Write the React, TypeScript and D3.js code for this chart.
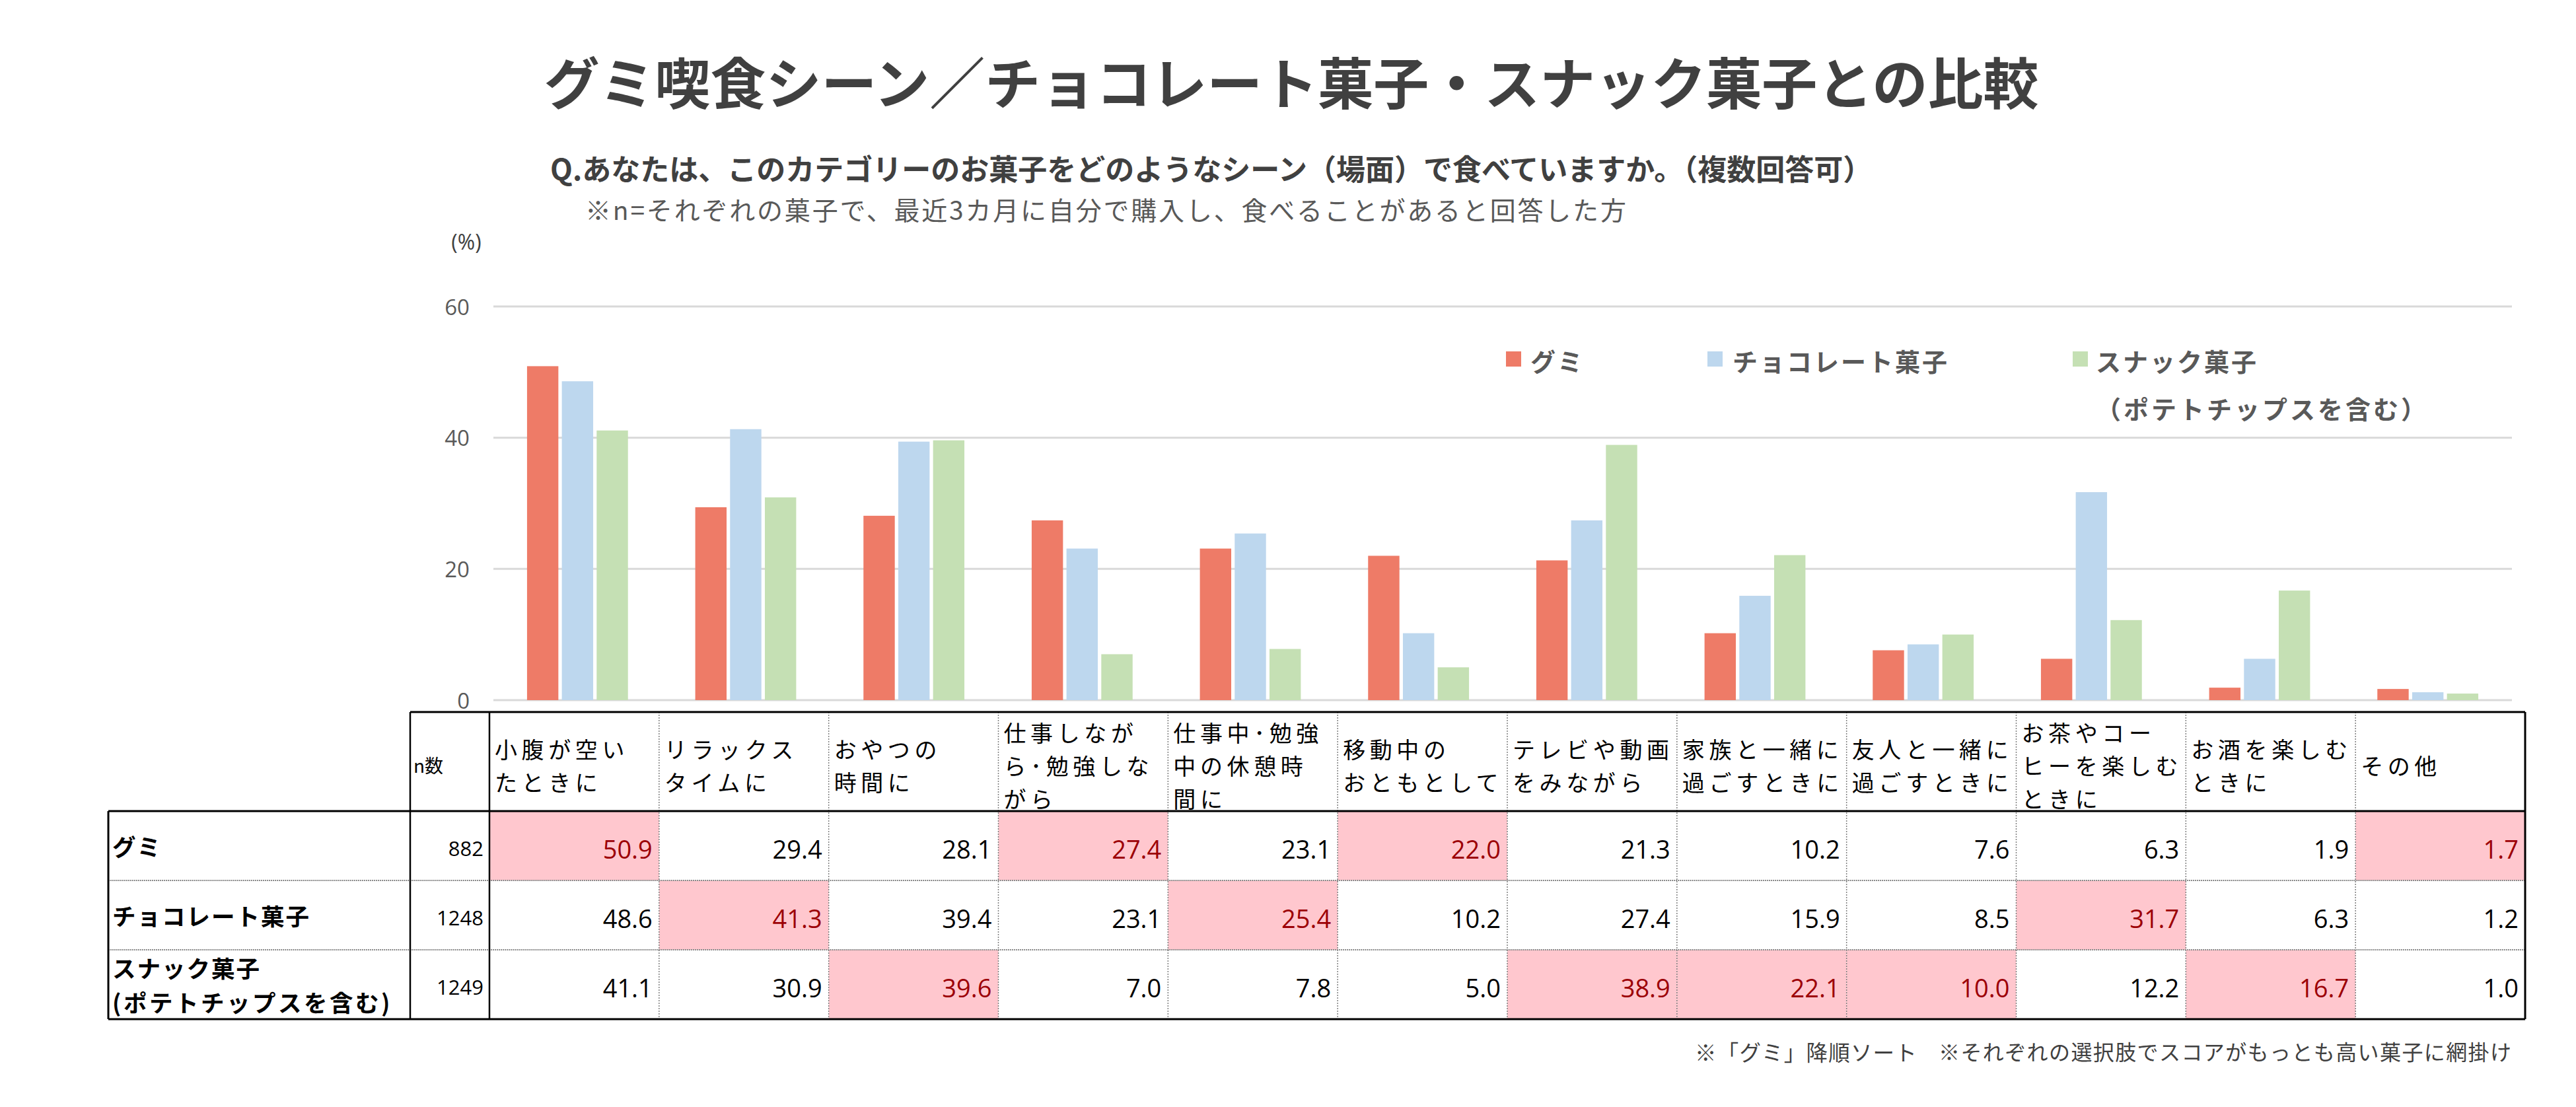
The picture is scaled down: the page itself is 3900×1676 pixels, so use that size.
import React from 'react';
import * as d3 from 'd3';

const categories: string[][] = [
  ['小腹が空い', 'たときに'],
  ['リラックス', 'タイムに'],
  ['おやつの', '時間に'],
  ['仕事しなが', 'ら･勉強しな', 'がら'],
  ['仕事中･勉強', '中の休憩時', '間に'],
  ['移動中の', 'おともとして'],
  ['テレビや動画', 'をみながら'],
  ['家族と一緒に', '過ごすときに'],
  ['友人と一緒に', '過ごすときに'],
  ['お茶やコー', 'ヒーを楽しむ', 'ときに'],
  ['お酒を楽しむ', 'ときに'],
  ['その他'],
];
const seriesNames = ['グミ', 'チョコレート菓子', 'スナック菓子'];
const rowLabels: string[][] = [['グミ'], ['チョコレート菓子'], ['スナック菓子', '(ポテトチップスを含む)']];
const gummy = [50.9, 29.4, 28.1, 27.4, 23.1, 22.0, 21.3, 10.2, 7.6, 6.3, 1.9, 1.7];
const choco = [48.6, 41.3, 39.4, 23.1, 25.4, 10.2, 27.4, 15.9, 8.5, 31.7, 6.3, 1.2];
const snack = [41.1, 30.9, 39.6, 7.0, 7.8, 5.0, 38.9, 22.1, 10.0, 12.2, 16.7, 1.0];
const nCounts = [882, 1248, 1249];
const yTicks = [0, 20, 40, 60];

const TITLE = 'グミ喫食シーン／チョコレート菓子・スナック菓子との比較';
const QUESTION = 'Q.あなたは、このカテゴリーのお菓子をどのようなシーン（場面）で食べていますか。（複数回答可）';
const NOTE = '※n=それぞれの菓子で、最近3カ月に自分で購入し、食べることがあると回答した方';
const LEGEND_SUB = '（ポテトチップスを含む）';
const FOOT1 = '※「グミ」降順ソート';
const FOOT2 = '※それぞれの選択肢でスコアがもっとも高い菓子に網掛け';

const COLORS = ['#EE7B67', '#BDD7EE', '#C5E0B4'];
const JP = "'Noto Sans CJK JP', 'Noto Sans', sans-serif";
const NUM = "'Open Sans', 'Noto Sans', sans-serif";

export default function App() {
  const W = 3900;
  const H = 1676;
  const values = [gummy, choco, snack];
  const keys = categories.map((c) => c.join(''));

  const x0 = d3.scaleBand<string>().domain(keys).range([747, 3803]).padding(0);
  const x1 = d3
    .scaleBand<string>()
    .domain(['0', '1', '2'])
    .range([x0.bandwidth() * 0.2, x0.bandwidth() * 0.8])
    .paddingInner(0.1);
  const y = d3.scaleLinear().domain([0, 60]).range([1060, 464]);

  // table scales
  const tx = d3.scaleBand<string>().domain(keys).range([741, 3823]).padding(0);
  const ty = d3.scaleBand<string>().domain(seriesNames).range([1228, 1543]).padding(0);
  const tableTop = 1078;
  const headerBottom = 1228;
  const tableBottom = 1543;
  const labelLeft = 164;
  const nLeft = 621;
  const nRight = 741;
  const tableRight = 3823;
  const headerMid = 1158;
  const lineH = 50;

  const maxIdx = keys.map((_, j) => d3.maxIndex(values, (s) => s[j]));

  return (
    <svg
      width={W}
      height={H}
      viewBox={`0 0 ${W} ${H}`}
      style={{ position: 'absolute', left: 0, top: 0, background: '#fff' }}
    >
      <rect x={0} y={0} width={W} height={H} fill="#fff" />
      {/* Titles */}
      <text x={1955} y={121} textAnchor="middle" dominantBaseline="central" fontFamily={JP} fontWeight={700} fontSize={84} fill="#404040">
        {TITLE}
      </text>
      <text x={833} y={254} dominantBaseline="central" fontFamily={JP} fontWeight={700} fontSize={44} fill="#404040">
        {QUESTION}
      </text>
      <text x={886} y={316} dominantBaseline="central" fontFamily={JP} fontWeight={400} fontSize={39} letterSpacing={2.8} fill="#595959">
        {NOTE}
      </text>

      {/* axis unit */}
      <text x={706} y={365} textAnchor="middle" dominantBaseline="central" fontFamily={NUM} fontSize={32} fill="#404040">
        (%)
      </text>

      {/* gridlines & ticks */}
      {yTicks.map((t) => (
        <g key={t}>
          <line x1={747} x2={3803} y1={y(t)} y2={y(t)} stroke="#d9d9d9" strokeWidth={3} />
          <text x={711} y={y(t)} textAnchor="end" dominantBaseline="central" fontFamily={NUM} fontSize={33} fill="#595959">
            {t}
          </text>
        </g>
      ))}

      {/* bars */}
      {keys.map((k, j) => (
        <g key={k} transform={`translate(${x0(k)},0)`}>
          {values.map((s, i) => (
            <rect
              key={i}
              x={x1(String(i))}
              y={y(s[j])}
              width={x1.bandwidth()}
              height={y(0) - y(s[j])}
              fill={COLORS[i]}
            />
          ))}
        </g>
      ))}

      {/* legend */}
      {[
        { sx: 2280, tx: 2317 },
        { sx: 2585, tx: 2623 },
        { sx: 3138, tx: 3173 },
      ].map((p, i) => (
        <g key={i}>
          <rect x={p.sx} y={532} width={23} height={23} fill={COLORS[i]} />
          <text x={p.tx} y={545} dominantBaseline="central" fontFamily={JP} fontWeight={700} fontSize={38} letterSpacing={3} fill="#595959">
            {seriesNames[i]}
          </text>
        </g>
      ))}
      <text x={3173} y={617} dominantBaseline="central" fontFamily={JP} fontWeight={700} fontSize={38} letterSpacing={4} fill="#595959">
        {LEGEND_SUB}
      </text>

      {/* table highlight fills */}
      {keys.map((k, j) => {
        const i = maxIdx[j];
        return (
          <rect
            key={`hl${j}`}
            x={tx(k)}
            y={ty(seriesNames[i])}
            width={tx.bandwidth()}
            height={ty.bandwidth()}
            fill="#FFC7CE"
          />
        );
      })}

      {/* dotted inner lines */}
      {keys.slice(1).map((k) => (
        <line key={`v${k}`} x1={tx(k)} x2={tx(k)} y1={tableTop} y2={tableBottom} stroke="#7f7f7f" strokeWidth={1.5} strokeDasharray="2,2" />
      ))}
      {seriesNames.slice(1).map((s) => (
        <line key={`h${s}`} x1={labelLeft} x2={tableRight} y1={ty(s)} y2={ty(s)} stroke="#8c8c8c" strokeWidth={2} strokeDasharray="2,1" />
      ))}

      {/* solid borders */}
      <g stroke="#000" fill="none">
        <line x1={nLeft} x2={tableRight} y1={tableTop} y2={tableTop} strokeWidth={3} />
        <line x1={labelLeft} x2={tableRight} y1={headerBottom} y2={headerBottom} strokeWidth={3} />
        <line x1={labelLeft} x2={tableRight} y1={tableBottom} y2={tableBottom} strokeWidth={3} />
        <line x1={labelLeft} x2={labelLeft} y1={headerBottom} y2={tableBottom} strokeWidth={3} />
        <line x1={nLeft} x2={nLeft} y1={tableTop} y2={tableBottom} strokeWidth={2.5} />
        <line x1={nRight} x2={nRight} y1={tableTop} y2={tableBottom} strokeWidth={2.5} />
        <line x1={tableRight} x2={tableRight} y1={tableTop} y2={tableBottom} strokeWidth={3} />
      </g>

      {/* header texts */}
      <text x={626} y={headerMid} dominantBaseline="central" fontFamily={JP} fontSize={28} fill="#000">
        n数
      </text>
      {categories.map((lines, j) => {
        const x = (tx(keys[j]) as number) + 8;
        const start = headerMid - ((lines.length - 1) * lineH) / 2;
        return (
          <g key={`hd${j}`}>
            {lines.map((l, li) => (
              <text
                key={li}
                x={x}
                y={start + li * lineH}
                dominantBaseline="central"
                fontFamily={JP}
                fontSize={34}
                letterSpacing={6.6}
                fill="#000"
              >
                {l}
              </text>
            ))}
          </g>
        );
      })}

      {/* row labels and values */}
      {seriesNames.map((s, i) => {
        const top = ty(s) as number;
        const mid = top + ty.bandwidth() / 2;
        const lines = rowLabels[i];
        const rl = 52;
        const start = mid - ((lines.length - 1) * rl) / 2;
        return (
          <g key={`row${i}`}>
            {lines.map((l, li) => (
              <text
                key={li}
                x={170}
                y={start + li * rl}
                dominantBaseline="central"
                fontFamily={JP}
                fontWeight={700}
                fontSize={35.5}
                letterSpacing={li === 1 ? 3.5 : 2}
                fill="#000"
              >
                {l}
              </text>
            ))}
            <text x={732} y={mid + 3} textAnchor="end" dominantBaseline="central" fontFamily={NUM} fontSize={31} fill="#000">
              {nCounts[i]}
            </text>
            {keys.map((k, j) => (
              <text
                key={k}
                x={(tx(k) as number) + tx.bandwidth() - 10}
                y={mid + 4}
                textAnchor="end"
                dominantBaseline="central"
                fontFamily={NUM}
                fontSize={38}
                fill={maxIdx[j] === i ? '#9C0006' : '#000'}
              >
                {values[i][j].toFixed(1)}
              </text>
            ))}
          </g>
        );
      })}

      {/* footnotes */}
      <text x={2566} y={1591} dominantBaseline="central" fontFamily={JP} fontSize={32.5} letterSpacing={1.2} fill="#404040">
        {FOOT1}
      </text>
      <text x={2935} y={1591} dominantBaseline="central" fontFamily={JP} fontSize={32} letterSpacing={1.4} fill="#404040">
        {FOOT2}
      </text>
    </svg>
  );
}
